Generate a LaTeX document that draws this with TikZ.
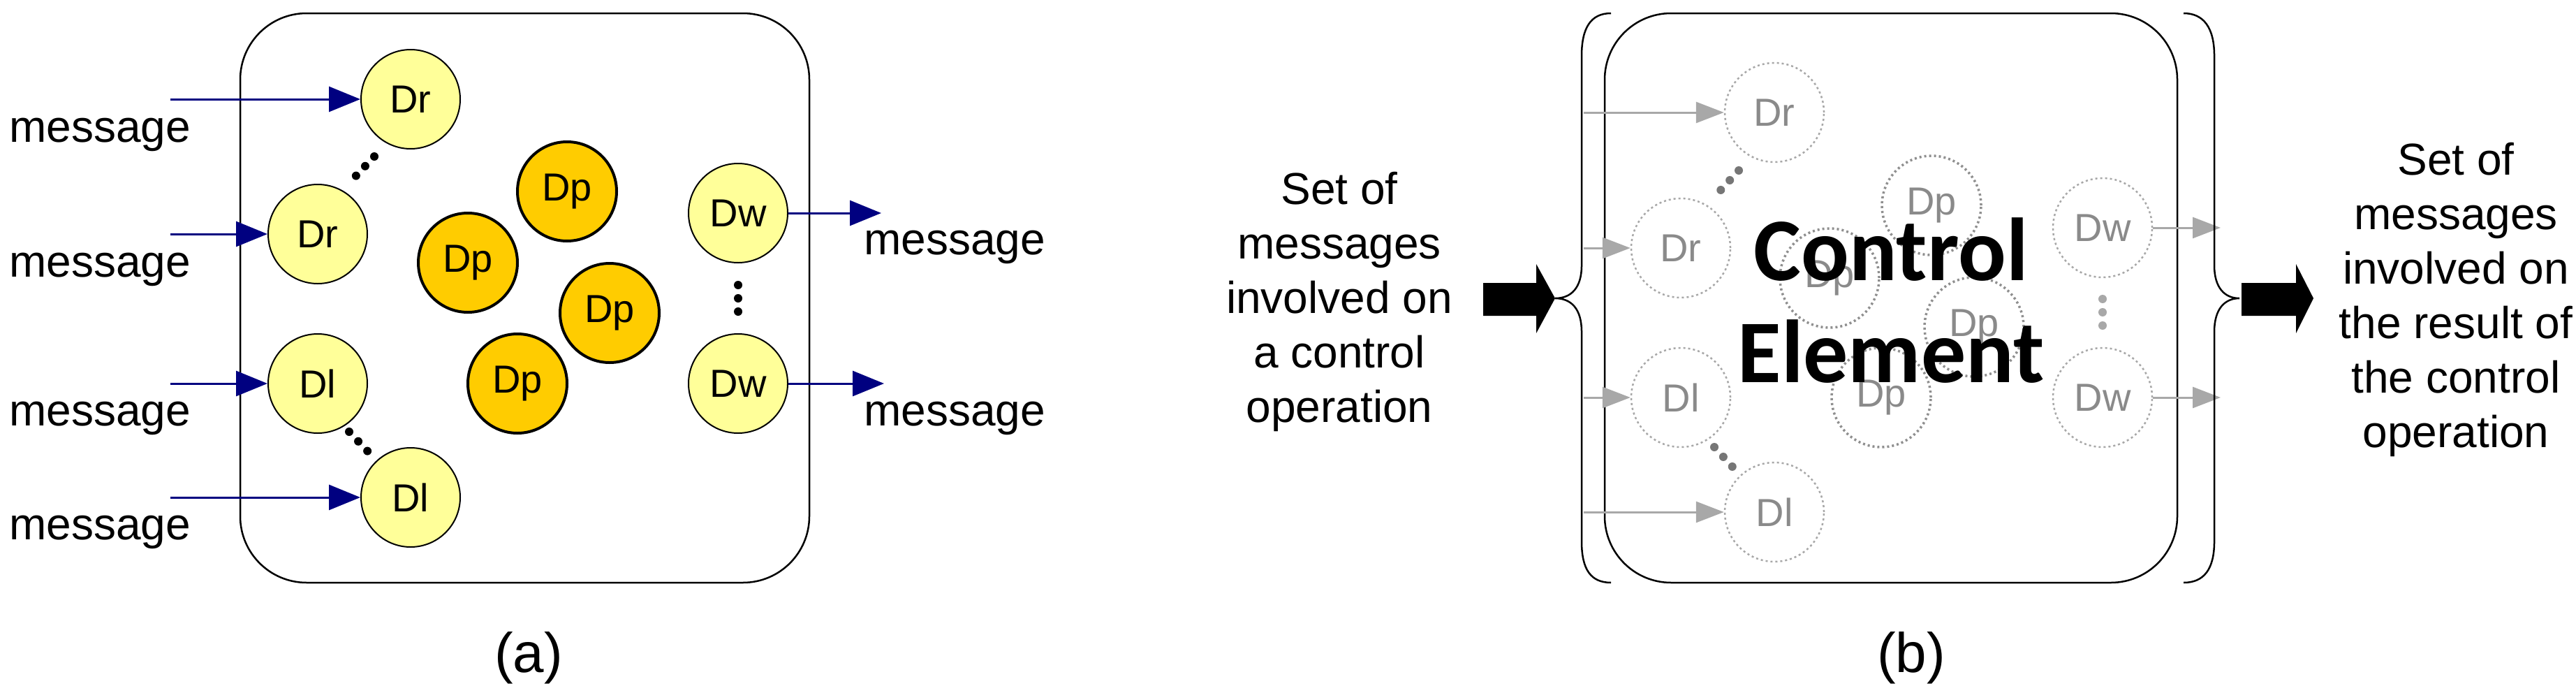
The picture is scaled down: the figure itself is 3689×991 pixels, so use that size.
\documentclass[tikz,border=0pt]{standalone}
\usepackage{fontspec}
\setmainfont{Liberation Sans}
\newfontfamily\ceFont{Carlito}
\usetikzlibrary{arrows.meta}
\definecolor{navyc}{HTML}{000080}
\definecolor{lyel}{HTML}{FFFF99}
\definecolor{dorg}{HTML}{FFCC00}
\definecolor{gline}{HTML}{A8A8A8}
\definecolor{gtext}{HTML}{8A8A8A}
\begin{document}
\begin{tikzpicture}[x=1pt,y=-1pt,
  dn/.style={circle,draw,line width=2pt,fill=lyel,minimum size=142pt,inner sep=0pt,font=\fontsize{56}{66}\selectfont},
  pn/.style={dn,fill=dorg,line width=4pt},
  gn/.style={circle,draw=gline,dash pattern=on 3pt off 4pt,line width=2.5pt,minimum size=142pt,inner sep=0pt,text=gtext,font=\fontsize{56}{66}\selectfont},
  gpn/.style={gn,draw=gline!85!black,line width=3.5pt},
  msg/.style={anchor=west,font=\fontsize{64}{76}\selectfont,inner sep=0pt},
  inarr/.style={navyc,line width=3pt,-{Triangle[length=45pt,width=36pt]}},
  garr/.style={gline,line width=3pt,-{Triangle[length=40pt,width=30pt]}},
  dotl/.style={line width=12pt,dash pattern=on 0pt off 19pt,line cap=round},
  captxt/.style={font=\fontsize{80}{96}\selectfont},
  side/.style={align=center,font=\fontsize{64}{78}\selectfont}]
\useasboundingbox (0,0) rectangle (3689,991);
% ---------- (a)
\draw[line width=2.5pt,rounded corners=95pt] (344,19) rectangle (1159,834);
\node[dn] (r1) at (588,142) {Dr};
\node[dn] (r2) at (455,335) {Dr};
\node[dn] (l1) at (455,549) {Dl};
\node[dn] (l2) at (588,712) {Dl};
\node[pn] (p1) at (812,274) {Dp};
\node[pn] (p2) at (670,376) {Dp};
\node[pn] (p3) at (873,448) {Dp};
\node[pn] (p4) at (741,549) {Dp};
\node[dn] (w1) at (1057,305) {Dw};
\node[dn] (w2) at (1057,549) {Dw};
\coordinate (ar1) at (244,142); \coordinate (ar2) at (244,335);
\coordinate (al1) at (244,549); \coordinate (al2) at (244,712);
\coordinate (aw1) at (1262,305); \coordinate (aw2) at (1266,549);
\draw[inarr] (ar1) -- (r1); \draw[inarr] (ar2) -- (r2);
\draw[inarr] (al1) -- (l1); \draw[inarr] (al2) -- (l2);
\draw[inarr] (w1) -- (aw1); \draw[inarr] (w2) -- (aw2);
\draw[dotl] (536,224) -- (500,262);
\draw[dotl] (500,618) -- (536,656);
\draw[dotl] (1057,408) -- (1057,460);
\node[msg] (m1) at (13,193) {message};
\node[msg] (m2) at (13,386) {message};
\node[msg] (m3) at (13,599) {message};
\node[msg] (m4) at (13,762) {message};
\node[msg] (m5) at (1237,354) {message};
\node[msg] (m6) at (1237,599) {message};
\node[captxt] (capa) at (757,942) {(a)};
% ---------- (b)
\draw[line width=2.5pt,rounded corners=95pt] (2298,19) rectangle (3118,834);
\node[gn] (gr1) at (2541,161) {Dr};
\node[gn] (gr2) at (2407,355) {Dr};
\node[gn] (gl1) at (2407,569) {Dl};
\node[gn] (gl2) at (2541,733) {Dl};
\node[gpn] (gp1) at (2766,294) {Dp};
\node[gpn] (gp2) at (2620,398) {Dp};
\node[gpn] (gp3) at (2827,468) {Dp};
\node[gpn] (gp4) at (2694,569) {Dp};
\node[gn] (gw1) at (3011,326) {Dw};
\node[gn] (gw2) at (3011,569) {Dw};
\coordinate (br1) at (2268,161); \coordinate (br2) at (2268,355);
\coordinate (bl1) at (2268,569); \coordinate (bl2) at (2268,733);
\coordinate (bw1) at (3180,326); \coordinate (bw2) at (3180,569);
\draw[garr] (br1) -- (gr1); \draw[garr] (br2) -- (gr2);
\draw[garr] (bl1) -- (gl1); \draw[garr] (bl2) -- (gl2);
\draw[garr] (gw1) -- (bw1); \draw[garr] (gw2) -- (bw2);
\draw[dotl,gline!70!black] (2490,244) -- (2455,282);
\draw[dotl,gline!70!black] (2455,640) -- (2490,678);
\draw[dotl,gline] (3011,428) -- (3011,475);
\node[font=\ceFont\bfseries\fontsize{128}{150}\selectfont] (ce1) at (2708,357) {Control};
\node[font=\ceFont\bfseries\fontsize{128}{150}\selectfont] (ce2) at (2708,503) {Element};
% braces
\draw[line width=2.5pt] (2307,19) .. controls (2278,19) and (2265,40) .. (2265,80) -- (2265,380) .. controls (2265,412) and (2250,427) .. (2227,427) .. controls (2250,427) and (2265,442) .. (2265,475) -- (2265,775) .. controls (2265,815) and (2278,834) .. (2307,834);
\draw[line width=2.5pt] (3127,19) .. controls (3156,19) and (3171,40) .. (3171,80) -- (3171,380) .. controls (3171,412) and (3186,427) .. (3207,427) .. controls (3186,427) and (3171,442) .. (3171,475) -- (3171,775) .. controls (3171,815) and (3156,834) .. (3127,834);
% fat arrows
\fill (2124,405) -- (2200,405) -- (2200,378) -- (2227,427) -- (2200,477) -- (2200,452) -- (2124,452) -- cycle;
\fill (3210,405) -- (3288,405) -- (3288,378) -- (3313,427) -- (3288,477) -- (3288,452) -- (3210,452) -- cycle;
\node[side] (tin) at (1918,432) {Set of\\messages\\involved on\\a control\\operation};
\node[side] (tout) at (3517,429) {Set of\\messages\\involved on\\the result of\\the control\\operation};
\node[captxt] (capb) at (2737,942) {(b)};
\end{tikzpicture}
\end{document}
